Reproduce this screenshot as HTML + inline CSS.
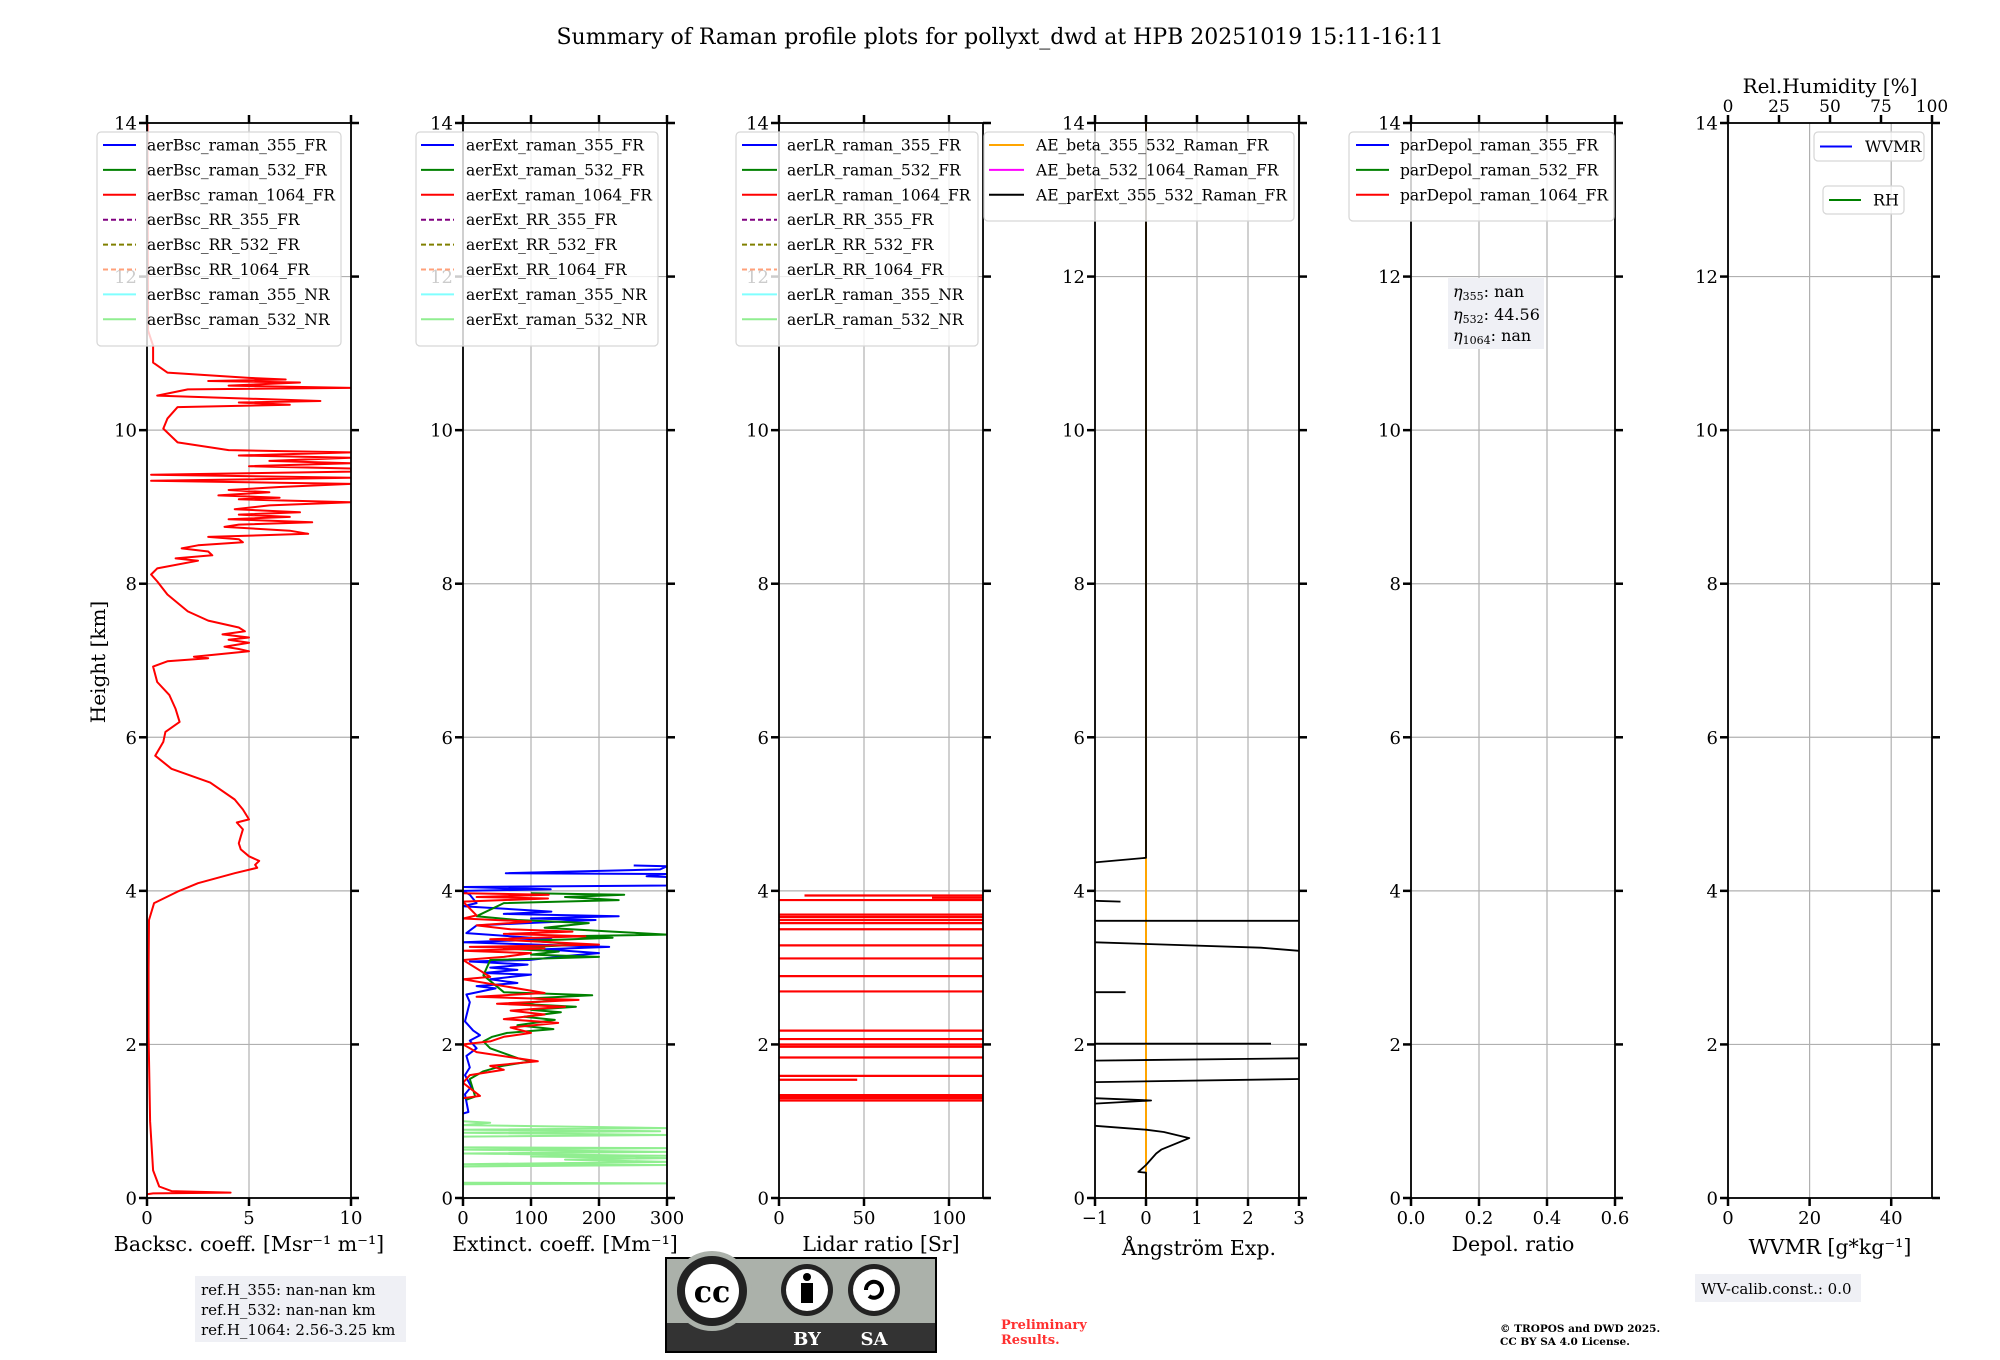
<!DOCTYPE html>
<html><head><meta charset="utf-8"><style>
html,body{margin:0;padding:0;background:#fff}
svg{display:block}
text{font-family:"DejaVu Serif","Liberation Serif",serif;fill:#000}
</style></head><body>
<svg id="fig" width="2000" height="1360" viewBox="0 0 2000 1360" xmlns="http://www.w3.org/2000/svg">
<text x="1000" y="44" text-anchor="middle" font-size="22">Summary of Raman profile plots for pollyxt_dwd at HPB 20251019 15:11-16:11</text>
<text transform="translate(105,662) rotate(-90)" text-anchor="middle" font-size="20">Height [km]</text>
<g id="plots"></g>
<g>
<rect x="195" y="1276" width="211" height="66" fill="#eff0f5"/>
<text x="201" y="1295" font-size="15">ref.H_355: nan-nan km</text>
<text x="201" y="1315" font-size="15">ref.H_532: nan-nan km</text>
<text x="201" y="1335" font-size="15">ref.H_1064: 2.56-3.25 km</text>
</g>
<g>
<rect x="666" y="1258" width="270" height="94" fill="#abb1aa" stroke="#000" stroke-width="2"/>
<rect x="667" y="1323" width="268" height="28" fill="#333"/>
<circle cx="712" cy="1291" r="40" fill="#abb1aa"/>
<circle cx="712" cy="1291" r="35" fill="#222"/>
<circle cx="712" cy="1291" r="27" fill="#fff"/>
<text x="712" y="1302" text-anchor="middle" font-size="30" font-weight="bold" font-family="Liberation Sans" style="fill:#000">cc</text>
<circle cx="807" cy="1290" r="26" fill="#222"/>
<circle cx="807" cy="1290" r="21" fill="#fff"/>
<circle cx="807" cy="1277" r="4" fill="#000"/>
<rect x="801" y="1283" width="12" height="20" fill="#000"/>
<circle cx="874" cy="1290" r="26" fill="#222"/>
<circle cx="874" cy="1290" r="21" fill="#fff"/>
<path d="M866,1290 a8,8 0 1 1 3,6" fill="none" stroke="#000" stroke-width="4"/>
<text x="807" y="1345" text-anchor="middle" font-size="18" font-weight="bold" font-family="Liberation Sans" style="fill:#fff">BY</text>
<text x="874" y="1345" text-anchor="middle" font-size="18" font-weight="bold" font-family="Liberation Sans" style="fill:#fff">SA</text>
</g>
<text x="1001" y="1329" font-size="13" font-weight="bold" style="fill:#ff3030">Preliminary</text>
<text x="1001" y="1344" font-size="13" font-weight="bold" style="fill:#ff3030">Results.</text>
<text x="1500" y="1332" font-size="10.5" font-weight="bold">© TROPOS and DWD 2025.</text>
<text x="1500" y="1345" font-size="10.5" font-weight="bold">CC BY SA 4.0 License.</text>
<g>
<rect x="1695" y="1274" width="166" height="28" fill="#eff0f5"/>
<text x="1701" y="1294" font-size="15">WV-calib.const.: 0.0</text>
</g>
<g>
<rect x="1448" y="278" width="96" height="71" fill="#eff0f5"/>
<text x="1453" y="297" font-size="16"><tspan font-style="italic">η</tspan><tspan font-size="11" dy="3">355</tspan><tspan dy="-3">: nan</tspan></text>
<text x="1453" y="320" font-size="16"><tspan font-style="italic">η</tspan><tspan font-size="11" dy="3">532</tspan><tspan dy="-3">: 44.56</tspan></text>
<text x="1453" y="341" font-size="16"><tspan font-style="italic">η</tspan><tspan font-size="11" dy="3">1064</tspan><tspan dy="-3">: nan</tspan></text>
</g>
</svg>
<script>
// ---- data ----
const yTicks = [0,2,4,6,8,10,12,14];
const bscH = [14,11.3,11.1,10.88,10.75,10.68,10.66,10.64,10.62,10.58,
10.55,10.53,10.45,10.38,10.36,10.33,10.3,10.15,10.02,9.84,
9.74,9.71,9.67,9.64,9.6,9.57,9.53,9.5,9.46,9.42,
9.38,9.34,9.3,9.26,9.22,9.19,9.15,9.12,9.1,9.06,
9.02,8.97,8.93,8.9,8.87,8.84,8.8,8.77,8.74,8.69,
8.65,8.61,8.58,8.54,8.5,8.46,8.42,8.37,8.33,8.3,
8.2,8.12,8.03,7.86,7.64,7.52,7.43,7.38,7.34,7.3,
7.27,7.23,7.18,7.15,7.12,7.05,7.03,6.99,6.92,6.72,
6.55,6.37,6.2,6.07,5.94,5.76,5.59,5.41,5.19,5.06,
4.93,4.89,4.8,4.71,4.62,4.54,4.45,4.39,4.34,4.3,
4.23,4.1,3.99,3.84,3.62,3.0,2.1,1.0,0.36,0.15,
0.09,0.07,0.06,0.05];
const bsc1064 = [0.02,0.05,0.3,0.3,1.0,5.0,6.8,3.0,7.5,4.0,
10,2.0,0.5,8.5,4.5,7.0,1.5,1.0,0.8,1.5,
4.0,10,4.5,10,6.0,10,5.0,10,10,0.2,
10,0.2,10,6.5,4.0,6.0,3.5,6.5,4.5,10,
6.0,4.3,7.5,4.5,7.0,4.0,8.1,4.5,3.8,7.0,
7.9,3.0,4.5,4.7,2.5,1.7,3.0,3.2,1.4,2.5,
0.5,0.2,0.5,1.0,2.0,3.0,4.5,4.8,3.7,5.0,
4.0,5.0,3.8,4.5,5.0,2.3,3.0,1.0,0.3,0.5,
1.1,1.4,1.6,0.9,0.8,0.4,1.2,3.1,4.3,4.7,
5.0,4.4,4.7,4.6,4.5,4.6,5.0,5.5,5.3,5.4,
4.3,2.5,1.5,0.35,0.1,0.08,0.08,0.15,0.3,0.6,
1.2,4.1,0.3,0];
const ext355H = [4.33,4.32,4.28,4.23,4.22,4.19,4.18,4.07,4.05,4.02,4.0,3.95,3.84,3.8,3.73,3.7,3.67,3.64,3.62,3.55,3.45,3.37,3.33,3.27,3.24,3.19,3.15,3.1,3.08,3.04,3.0,2.97,2.93,2.91,2.85,2.8,2.76,2.73,2.65,2.55,2.3,2.18,2.12,2.05,1.95,1.85,1.7,1.6,1.45,1.35,1.12,1.1];
const ext355 = [251,300,290,63,300,270,300,300,0,129,0,10,20,0,130,60,229,100,195,20,5,130,0,215,120,200,150,97,10,95,40,80,30,100,40,80,20,48,5,10,3,15,25,10,20,5,10,3,12,3,8,0];
const ext1064H = [3.97,3.95,3.92,3.9,3.86,3.68,3.64,3.6,3.55,3.5,3.47,3.44,3.41,3.37,3.34,3.3,3.27,3.25,3.22,3.19,3.14,3.1,2.88,2.85,2.67,2.62,2.58,2.53,2.49,2.44,2.39,2.33,2.28,2.22,2.15,2.1,2.04,2.0,1.9,1.82,1.78,1.72,1.67,1.6,1.5,1.33,1.3];
const ext1064 = [0,126,20,125,0,20,0,100,20,70,161,60,180,40,109,200,10,120,0,100,60,0,40,0,120,20,170,50,150,70,120,60,140,70,100,60,40,0,20,80,110,40,60,10,0,25,0];
const ext532H = [3.97,3.95,3.92,3.88,3.84,3.67,3.62,3.58,3.52,3.47,3.43,3.41,3.39,3.35,3.3,3.25,3.21,3.17,3.14,3.1,2.9,2.68,2.64,2.6,2.58,2.53,2.49,2.45,2.42,2.36,2.32,2.25,2.2,2.15,2.1,2.04,1.95,1.82,1.78,1.72,1.65,1.55,1.32,1.28];
const ext532 = [100,237,150,229,60,20,80,185,120,220,300,150,220,100,170,60,141,100,200,40,30,60,190,100,140,80,166,100,144,90,135,80,133,65,43,30,40,81,100,58,30,10,18,5];
const ext532nrH = [1.0,0.98,0.95,0.91,0.89,0.87,0.85,0.82,0.8,0.66,0.65,0.63,0.6,0.58,0.55,0.54,0.52,0.5,0.47,0.44,0.43,0.41,0.2,0.19,0.18,0.1];
const ext532nr = [0,40,0,300,0,290,0,300,0,0,300,0,300,0,300,100,300,150,300,0,300,0,0,300,0,0];
const lrH = [3.94,3.91,3.88,3.69,3.66,3.62,3.58,3.5,3.29,3.12,2.89,2.69,2.18,2.07,2.0,1.97,1.83,1.59,1.54,1.34,1.32,1.3,1.27];
const lrStart = [15,90,0,0,0,0,0,0,0,0,0,0,0,0,0,0,0,0,0,0,0,0,0];
const lrEnd = [120,120,120,120,120,120,120,120,120,120,120,120,120,120,120,120,120,120,46,120,120,120,120];
const aeSegH = [[14,4.43,4.37],[3.87,3.86],[3.61,3.61],[3.33,3.26,3.22],[2.68,2.68],[2.01,2.01],[1.79,1.82],[1.51,1.55],[1.30,1.27,1.23],[0.94,0.89,0.86,0.78,0.63,0.58,0.43,0.34,0.33,0]];
const aeSegV = [[0,0,-1],[-1,-0.5],[-1,3],[-1,2.25,3],[-1,-0.4],[-1,2.45],[-1,3],[-1,3],[-1,0.1,-1],[-1,0,0.35,0.85,0.3,0.2,0,-0.15,0,0]];
const aeOrangeH = [0,14];
const aeOrangeV = [0,0];
const xTicks = [[0,5,10],[0,100,200,300],[0,50,100],[-1,0,1,2,3],[0.0,0.2,0.4,0.6],[0,20,40]];
const xTickLabels = [["0","5","10"],["0","100","200","300"],["0","50","100"],["\u22121","0","1","2","3"],["0.0","0.2","0.4","0.6"],["0","20","40"]];
const xLims = [[0,10],[0,300],[0,120],[-1,3],[0,0.6],[0,50]];
const rhTicks = [0,25,50,75,100];
const xTitles = ["Backsc. coeff. [Msr\u207B\u00B9 m\u207B\u00B9]","Extinct. coeff. [Mm\u207B\u00B9]","Lidar ratio [Sr]","\u00C5ngstr\u00F6m Exp.","Depol. ratio","WVMR [g*kg\u207B\u00B9]"];
const legends = [
 [["aerBsc_raman_355_FR","#0000ff",0],["aerBsc_raman_532_FR","#008000",0],["aerBsc_raman_1064_FR","#ff0000",0],["aerBsc_RR_355_FR","#800080",1],["aerBsc_RR_532_FR","#808000",1],["aerBsc_RR_1064_FR","#ffa07a",1],["aerBsc_raman_355_NR","#80ffff",0],["aerBsc_raman_532_NR","#90ee90",0]],
 [["aerExt_raman_355_FR","#0000ff",0],["aerExt_raman_532_FR","#008000",0],["aerExt_raman_1064_FR","#ff0000",0],["aerExt_RR_355_FR","#800080",1],["aerExt_RR_532_FR","#808000",1],["aerExt_RR_1064_FR","#ffa07a",1],["aerExt_raman_355_NR","#80ffff",0],["aerExt_raman_532_NR","#90ee90",0]],
 [["aerLR_raman_355_FR","#0000ff",0],["aerLR_raman_532_FR","#008000",0],["aerLR_raman_1064_FR","#ff0000",0],["aerLR_RR_355_FR","#800080",1],["aerLR_RR_532_FR","#808000",1],["aerLR_RR_1064_FR","#ffa07a",1],["aerLR_raman_355_NR","#80ffff",0],["aerLR_raman_532_NR","#90ee90",0]],
 [["AE_beta_355_532_Raman_FR","#ffa500",0],["AE_beta_532_1064_Raman_FR","#ff00ff",0],["AE_parExt_355_532_Raman_FR","#000000",0]],
 [["parDepol_raman_355_FR","#0000ff",0],["parDepol_raman_532_FR","#008000",0],["parDepol_raman_1064_FR","#ff0000",0]]
];
// ---- layout ----
const NS="http://www.w3.org/2000/svg";
const PL=[147,463,779,1095,1411,1728], PW=204, TOP=123, BOT=1198;
const yS = h => BOT - h*(BOT-TOP)/14;
const xS = (p,v) => PL[p] + (v - xLims[p][0])/(xLims[p][1]-xLims[p][0])*PW;
const root=document.getElementById('plots');
function mk(tag,attrs,parent){const e=document.createElementNS(NS,tag);for(const k in attrs)e.setAttribute(k,attrs[k]);(parent||root).appendChild(e);return e;}
function txt(str,attrs,parent){const t=mk('text',attrs,parent);t.textContent=str;return t;}
function poly(p,H,V,color,w,parent){let d='';for(let i=0;i<H.length;i++){d+=(i?'L':'M')+xS(p,V[i]).toFixed(1)+','+yS(H[i]).toFixed(1);}
 return mk('path',{d:d,fill:'none',stroke:color,'stroke-width':w,'stroke-linejoin':'round','clip-path':'url(#clip'+p+')'},parent);}

for(let p=0;p<6;p++){
 const g=mk('g',{});
 
 
 const cp=mk('clipPath',{id:'clip'+p},g); mk('rect',{x:PL[p],y:TOP,width:PW,height:BOT-TOP},cp);
 for(const h of yTicks){const l=mk('line',{x1:PL[p],x2:PL[p]+PW,y1:yS(h),y2:yS(h),stroke:'#b0b0b0','stroke-width':1.2},g);}
 xTicks[p].forEach(v=>{const l=mk('line',{x1:xS(p,v),x2:xS(p,v),y1:TOP,y2:BOT,stroke:'#b0b0b0','stroke-width':1.2},g);});
 for(const h of yTicks){
  const t=txt(String(h),{x:PL[p]-10,y:yS(h)+6.5,'text-anchor':'end','font-size':18},g);
  
 }
 xTicks[p].forEach((v,i)=>{const t=txt(xTickLabels[p][i],{x:xS(p,v),y:BOT+26,'text-anchor':'middle','font-size':18},g);});
 const xt=txt(xTitles[p],{x:PL[p]+PW/2,y:BOT+53,'text-anchor':'middle','font-size':20.5},g);
 
 
 if(p===3){xt.setAttribute('x',PL[p]+PW/2+2);xt.setAttribute('y',BOT+57);}
 if(p===5){xt.setAttribute('y',BOT+56);}
}
// ---- series ----
function series(p,H,V,color,name,w){const s=poly(p,H,V,color,w||2,root);}
series(0,bscH,bsc1064,'#ff0000','series-aerbsc-1064');
series(1,ext532nrH,ext532nr,'#90ee90','series-aerext-532-nr');
series(1,ext355H,ext355,'#0000ff','series-aerext-355');
series(1,ext532H,ext532,'#008000','series-aerext-532');
series(1,ext1064H,ext1064,'#ff0000','series-aerext-1064');
for(let i=0;i<lrH.length;i++){
 const l=mk('line',{x1:xS(2,lrStart[i]),x2:xS(2,lrEnd[i]),y1:yS(lrH[i]),y2:yS(lrH[i]),stroke:'#ff0000','stroke-width':2.2,'clip-path':'url(#clip2)'});
 
 
}
series(3,aeOrangeH,aeOrangeV,'#ffa500','series-ae-beta-355-532');
for(let i=0;i<aeSegH.length;i++){series(3,aeSegH[i],aeSegV[i],'#000000','series-ae-parext-segment',1.8);}
// ---- spines & ticks ----
for(let p=0;p<6;p++){
 const g=mk('g',{});
 
 
 mk('rect',{x:PL[p],y:TOP,width:PW,height:BOT-TOP,fill:'none',stroke:'#000','stroke-width':1.8},g);
 for(const h of yTicks){
  mk('line',{x1:PL[p]-8,x2:PL[p],y1:yS(h),y2:yS(h),stroke:'#000','stroke-width':2.5},g);
  mk('line',{x1:PL[p]+PW,x2:PL[p]+PW+8,y1:yS(h),y2:yS(h),stroke:'#000','stroke-width':2.5},g);
 }
 const tv = p===5 ? rhTicks.map(v=>PL[p]+v/100*PW) : xTicks[p].map(v=>xS(p,v));
 xTicks[p].forEach(v=>mk('line',{x1:xS(p,v),x2:xS(p,v),y1:BOT,y2:BOT+8,stroke:'#000','stroke-width':2.5},g));
 tv.forEach(x=>mk('line',{x1:x,x2:x,y1:TOP-8,y2:TOP,stroke:'#000','stroke-width':2.5},g));
}
rhTicks.forEach(v=>{const t=txt(String(v),{x:PL[5]+v/100*PW,y:112,'text-anchor':'middle','font-size':17});});
const rht=txt('Rel.Humidity [%]',{x:PL[5]+PW/2,y:93,'text-anchor':'middle','font-size':20});


// ---- legends ----
const legPos=[[97,341,103,136,147],[416,658,421,454,466],[736,978,742,777,787],[984,1294,989,1024,1036],[1349,1614,1356,1389,1400]];
legends.forEach((items,i)=>{
 const [x0,x1,l0,l1,tx]=legPos[i];
 const g=mk('g',{});
 
 
 mk('rect',{x:x0,y:132,width:x1-x0,height:items.length*25+14,rx:4,fill:'rgba(255,255,255,0.8)',stroke:'#d6d6d6','stroke-width':1.2},g);
 items.forEach((it,k)=>{
  const y=145+k*24.9;
  const ln=mk('line',{x1:l0,x2:l1,y1:y,y2:y,stroke:it[1],'stroke-width':2,'stroke-dasharray':it[2]?'5,3':'none'},g);
  
  
  const t=txt(it[0],{x:tx,y:y+5.5,'font-size':15.5},g);
  
  
  const w=t.getComputedTextLength(), maxw=x1-tx-6;
  if(w>maxw){t.setAttribute('textLength',maxw);t.setAttribute('lengthAdjust','spacingAndGlyphs');}
 });
});
[[1814,1924,132,161,'WVMR','#0000ff',1820,1852,1865],[1823,1904,186,214,'RH','#008000',1829,1861,1873]].forEach(L=>{
 const g=mk('g',{});
 
 
 mk('rect',{x:L[0],y:L[2],width:L[1]-L[0],height:L[3]-L[2],rx:4,fill:'rgba(255,255,255,0.8)',stroke:'#d6d6d6','stroke-width':1.2},g);
 const cy=(L[2]+L[3])/2;
 mk('line',{x1:L[6],x2:L[7],y1:cy,y2:cy,stroke:L[5],'stroke-width':2},g);
 const t=txt(L[4],{x:L[8],y:cy+5.5,'font-size':16},g);
 
 
});
</script>
</body></html>
